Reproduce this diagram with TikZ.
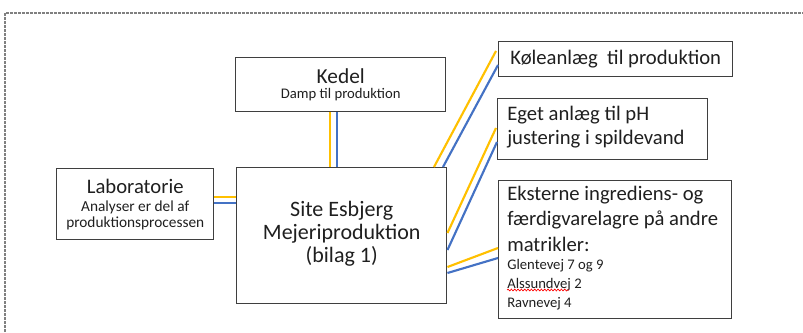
\documentclass[tikz,border=0pt]{standalone}
\usepackage{fontspec}
\setmainfont{Carlito}
\usetikzlibrary{calc,decorations.pathmorphing}
\definecolor{ygold}{HTML}{FFC000}
\definecolor{oblue}{HTML}{4472C4}
\definecolor{boxgray}{HTML}{3F3F3F}
\definecolor{txt}{HTML}{1F1F1F}
\begin{document}
\begin{tikzpicture}[x=0.75pt,y=-0.75pt,
  box/.style={draw=boxgray,line width=1.1pt,inner sep=0pt,anchor=north west,align=center,text=txt},
  big/.style={font=\fontsize{15.5}{17.5}\selectfont},
  lbl/.style={inner sep=0pt,align=left,text=txt},
  yl/.style={draw=ygold,line width=1.6pt},
  bl/.style={draw=oblue,line width=1.6pt}]
\useasboundingbox (0,0) rectangle (803,332);
\draw[gray,line width=0.8pt,dash pattern=on 2.2pt off 0.8pt] (5,332) -- (5,13) -- (803,13);

\node[box,minimum width=157.5pt,minimum height=40.5pt] (kedel) at (235,57)
  {\fontsize{16}{17}\selectfont Kedel\\[-1pt]\fontsize{11}{13}\selectfont Damp til produktion};
\node[box,minimum width=157.5pt,minimum height=102pt] (site) at (236,167) {};
\node[lbl,align=center,font=\fontsize{16.5}{17.25}\selectfont] (sitet) at ($(site.center)+(0,-2)$)
  {Site Esbjerg\\Mejeriproduktion\\(bilag 1)};
\node[box,minimum width=117.75pt,minimum height=53.25pt] (lab) at (56,168)
  {\fontsize{15.5}{17}\selectfont Laboratorie\\[1.5pt]\fontsize{11.5}{13.5}\selectfont Analyser er del af\\\fontsize{11.5}{13.5}\selectfont produktionsprocessen};
\node[box,minimum width=175.5pt,minimum height=26.25pt,big] (kole) at (498,41)
  {Køleanlæg\ \ til produktion};
\node[box,minimum width=157.5pt,minimum height=45.75pt] (eget) at (497,98) {};
\node[lbl,big,anchor=west] (egett) at (507,127)
  {Eget anlæg til pH\\justering i spildevand};
\node[box,minimum width=174.75pt,minimum height=103.5pt] (ekst) at (498,180) {};
\node[lbl,anchor=north west,font=\fontsize{15.5}{19}\selectfont] (ekstt) at (507,186)
  {Eksterne ingrediens- og\\færdigvarelagre på andre\\matrikler:};
\node[lbl,anchor=north west,font=\fontsize{11}{14.4}\selectfont] (ekstaddr) at (507,259)
  {Glentevej 7 og 9\\Alssundvej 2\\Ravnevej 4};

% connectors
\draw[yl] ($(kedel.south west)+(95,0)$) -- ($(site.north west)+(94,0)$);
\draw[bl] ($(kedel.south west)+(102,0)$) -- ($(site.north west)+(101,0)$);
\draw[yl] ($(lab.north east)+(0,29)$) -- ($(site.north west)+(0,30)$);
\draw[bl] ($(lab.north east)+(0,35)$) -- ($(site.north west)+(0,36)$);
\draw[yl] ($(site.north west)+(198,0)$) -- ($(kole.north west)+(-2,10)$);
\draw[bl] ($(site.north west)+(207,0)$) -- ($(kole.north west)+(0,24)$);
\draw[yl] ($(site.north east)+(0,66)$) -- ($(eget.north west)+(-1,30)$);
\draw[bl] ($(site.north east)+(0,83)$) -- ($(eget.north west)+(0,44)$);
\draw[yl] ($(site.north east)+(0,100)$) -- ($(ekst.north west)+(0,68)$);
\draw[bl] ($(site.north east)+(0,106)$) -- ($(ekst.north west)+(0,78)$);

% spell-check squiggle under "Alssundvej"
\coordinate (sq1) at ($(ekstaddr.north west)+(0,31)$);
\coordinate (sq2) at ($(ekstaddr.north west)+(62,31)$);
\draw[red,line width=0.5pt,decorate,decoration={snake,amplitude=0.7pt,segment length=2.5pt}] (sq1) -- (sq2);
\end{tikzpicture}
\end{document}
